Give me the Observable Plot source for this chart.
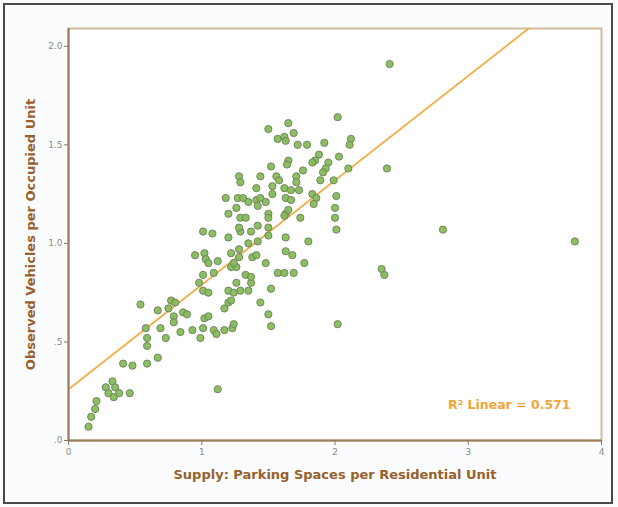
<!DOCTYPE html>
<html><head><meta charset="utf-8">
<script src="https://cdn.jsdelivr.net/npm/d3@7"></script>
<script src="https://cdn.jsdelivr.net/npm/@observablehq/plot@0.6"></script>
<style>
html,body{margin:0;padding:0;background:#fafcfd;}
#wrap{position:relative;width:618px;height:507px;overflow:hidden;}
#border{position:absolute;left:3px;top:3px;width:606px;height:497px;border:2px solid #4a4a4a;pointer-events:none;}
</style></head><body><div id="wrap"><div id="chart"></div><div id="border"></div></div>
<script>
const supply = [
0.15,0.17,0.20,0.21,0.28,0.30,0.33,0.35,0.38,0.34,0.46,0.41,0.48,0.59,0.67,0.59,0.59,0.73,0.54,0.67,
0.77,0.80,0.75,0.86,0.79,0.79,0.69,0.58,0.84,1.12,0.89,0.93,0.99,1.01,1.09,1.11,1.17,1.23,1.24,1.02,
1.05,1.17,1.20,1.22,1.44,1.50,1.52,0.98,1.01,1.05,1.01,1.09,1.20,1.24,1.29,1.35,1.37,1.26,1.33,1.37,
1.52,1.22,1.26,0.95,1.02,1.03,1.05,1.12,1.22,1.28,1.24,1.28,1.38,1.41,1.48,1.57,1.62,1.69,1.01,1.08,
1.20,1.29,1.37,1.35,1.42,1.50,1.63,1.80,1.63,1.68,1.77,1.50,1.57,1.65,1.69,1.62,1.63,1.72,1.79,2.02,
1.92,2.12,2.11,2.03,1.88,1.85,1.83,1.95,1.93,1.91,2.10,1.76,1.65,1.64,1.52,1.56,1.58,1.71,1.71,1.44,
1.53,1.89,1.99,1.62,1.67,1.73,1.63,1.67,1.83,1.86,1.84,2.01,2.00,2.00,2.01,1.74,1.63,1.28,1.29,1.41,
1.53,1.18,1.27,1.31,1.35,1.41,1.44,1.48,1.42,1.20,1.26,1.29,1.33,1.28,1.42,1.50,1.50,1.50,1.62,1.65,
2.41,2.39,2.81,3.80,2.35,2.37,2.02
];
const vehicles = [
0.07,0.12,0.16,0.20,0.27,0.24,0.30,0.27,0.24,0.22,0.24,0.39,0.38,0.39,0.42,0.48,0.52,0.52,0.69,0.66,
0.71,0.70,0.67,0.65,0.63,0.60,0.57,0.57,0.55,0.26,0.64,0.56,0.52,0.57,0.56,0.54,0.56,0.57,0.59,0.62,
0.63,0.67,0.70,0.71,0.70,0.64,0.58,0.80,0.76,0.75,0.84,0.85,0.76,0.75,0.76,0.76,0.80,0.80,0.84,0.83,
0.77,0.88,0.88,0.94,0.95,0.92,0.90,0.91,0.95,0.97,0.90,0.93,0.93,0.94,0.90,0.85,0.85,0.85,1.06,1.05,
1.03,1.06,1.06,1.00,1.01,1.04,1.03,1.01,0.96,0.94,0.90,1.58,1.53,1.61,1.56,1.54,1.52,1.50,1.50,1.64,
1.51,1.53,1.50,1.44,1.45,1.42,1.41,1.41,1.38,1.36,1.38,1.37,1.42,1.40,1.39,1.34,1.32,1.34,1.31,1.34,
1.29,1.32,1.32,1.28,1.27,1.27,1.23,1.22,1.25,1.23,1.20,1.24,1.18,1.13,1.07,1.13,1.15,1.34,1.31,1.28,
1.25,1.23,1.23,1.23,1.21,1.22,1.23,1.21,1.19,1.15,1.18,1.13,1.13,1.08,1.09,1.08,1.15,1.13,1.14,1.17,
1.91,1.38,1.07,1.01,0.87,0.84,0.59
];
const xTicks = [0, 1, 2, 3, 4];
const xTickLabels = ["0", "1", "2", "3", "4"];
const yTicks = [0, 0.5, 1, 1.5, 2];
const yTickLabels = [".0", ".5", "1.0", "1.5", "2.0"];
const fitIntercept = 0.26;
const fitSlope = 0.53;
const r2Label = "R\u00B2 Linear = 0.571";
const xTitle = "Supply: Parking Spaces per Residential Unit";
const yTitle = "Observed Vehicles per Occupied Unit";

const points = supply.map((x, i) => ({x, y: vehicles[i]}));
const fitLine = [0, 4].map(x => ({x, y: fitIntercept + fitSlope * x}));

const chart = Plot.plot({
  width: 618,
  height: 507,
  marginLeft: 68,
  marginRight: 17,
  marginTop: 28,
  marginBottom: 67,
  style: {fontFamily: "'DejaVu Sans', sans-serif", background: "transparent"},
  x: {domain: [0, 4]},
  y: {domain: [0, 2.09]},
  marks: [
    Plot.frame({fill: "white", stroke: "#d2b999", strokeWidth: 2}),
    Plot.line(fitLine, {x: "x", y: "y", stroke: "#f2ac45", strokeWidth: 1.8, clip: true}),
    Plot.dot(points, {x: "x", y: "y", r: 3.6, fill: "#86bb5a", fillOpacity: 0.95, stroke: "#71865f", strokeWidth: 1}),
    Plot.ruleX([0], {stroke: "#9c7a5a", strokeWidth: 2}),
    Plot.ruleY([0], {stroke: "#9c7a5a", strokeWidth: 2}),
    Plot.axisX({ticks: xTicks, tickFormat: (d) => xTickLabels[xTicks.indexOf(d)], tickSize: 5, tickPadding: 3, stroke: "#8a7560", fill: "#8c8c8c", fontSize: 9, label: null}),
    Plot.axisY({ticks: yTicks, tickFormat: (d) => yTickLabels[yTicks.indexOf(d)], tickSize: 4, tickPadding: 2, stroke: "#8a7560", fill: "#8c8c8c", fontSize: 9, label: null}),
    Plot.text([xTitle], {text: d => d, frameAnchor: "bottom", dy: 38, fontSize: 13, fontWeight: "bold", fill: "#97602c"}),
    Plot.text([yTitle], {text: d => d, frameAnchor: "left", rotate: -90, dx: -38, textAnchor: "middle", fontSize: 13, fontWeight: "bold", fill: "#97602c"}),
    Plot.text([r2Label], {text: d => d, frameAnchor: "bottom-right", dx: -31, dy: -32, textAnchor: "end", fontSize: 12.5, fontWeight: "bold", fill: "#f0a53a"})
  ]
});
document.getElementById("chart").appendChild(chart);
</script></body></html>
